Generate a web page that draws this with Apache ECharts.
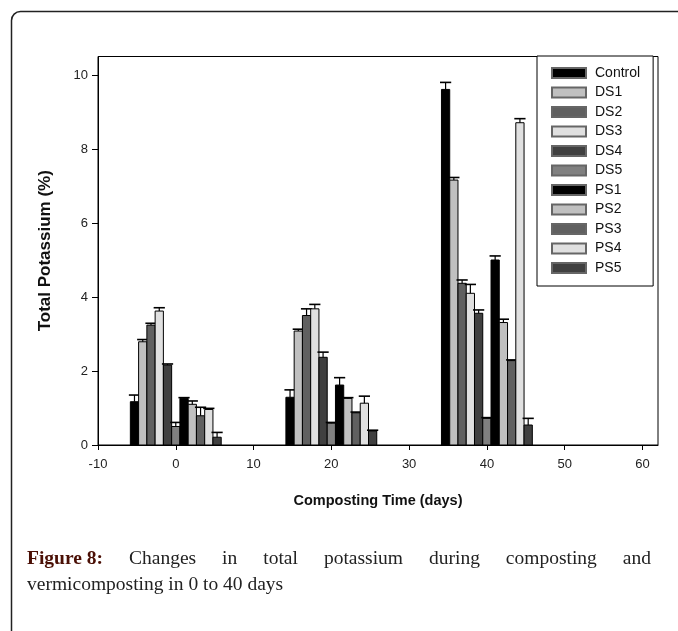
<!DOCTYPE html>
<html>
<head>
<meta charset="utf-8">
<script src="https://cdn.jsdelivr.net/npm/echarts@6/dist/echarts.min.js"></script>
<style>
html,body{margin:0;padding:0;background:#fff;}
#chart{width:678px;height:631px;}
</style>
</head>
<body>
<div id="chart"></div>
<script>
// ---- data ----
const days = [0, 20, 40];
const seriesNames = ['Control','DS1','DS2','DS3','DS4','DS5','PS1','PS2','PS3','PS4','PS5'];
const seriesColors = ['#000000','#c0c0c0','#606060','#e0e0e0','#404040','#808080','#000000','#c0c0c0','#606060','#e0e0e0','#404040'];

const controlVals = [1.17, 1.29, 9.61];  const controlErr = [0.18, 0.20, 0.19];
const ds1Vals = [2.79, 3.08, 7.16];      const ds1Err = [0.06, 0.05, 0.07];
const ds2Vals = [3.24, 3.50, 4.37];      const ds2Err = [0.05, 0.18, 0.09];
const ds3Vals = [3.62, 3.68, 4.10];      const ds3Err = [0.09, 0.12, 0.24];
const ds4Vals = [2.16, 2.37, 3.56];      const ds4Err = [0.03, 0.14, 0.09];
const ds5Vals = [0.50, 0.59, 0.72];      const ds5Err = [0.11, 0.02, 0.02];
const ps1Vals = [1.26, 1.62, 5.00];      const ps1Err = [0.02, 0.20, 0.11];
const ps2Vals = [1.10, 1.26, 3.31];      const ps2Err = [0.09, 0.02, 0.09];
const ps3Vals = [0.79, 0.87, 2.28];      const ps3Err = [0.23, 0.02, 0.02];
const ps4Vals = [0.96, 1.13, 8.71];      const ps4Err = [0.03, 0.19, 0.11];
const ps5Vals = [0.21, 0.38, 0.54];      const ps5Err = [0.13, 0.02, 0.18];

const xTicks = [-10, 0, 10, 20, 30, 40, 50, 60];
const yTicks = [0, 2, 4, 6, 8, 10];

const allVals = [controlVals, ds1Vals, ds2Vals, ds3Vals, ds4Vals, ds5Vals, ps1Vals, ps2Vals, ps3Vals, ps4Vals, ps5Vals];
const allErr  = [controlErr, ds1Err, ds2Err, ds3Err, ds4Err, ds5Err, ps1Err, ps2Err, ps3Err, ps4Err, ps5Err];

const captionBold = 'Figure 8:';
const captionLine1 = 'Changes in total potassium during composting and';
const captionLine2 = 'vermicomposting in 0 to 40 days';

// ---- chart ----
const BAR_W = 1.062; // bar width in days
const nSeries = seriesNames.length;

function renderBar(params, api) {
  const idx = params.seriesIndex;
  const day = api.value(0), val = api.value(1), err = api.value(2);
  const unit = api.size([1, 0])[0];
  const w = unit * BAR_W;
  const top = api.coord([day, val]);
  const base = api.coord([day, 0]);
  const errTop = api.coord([day, val + err]);
  const x = top[0] + (idx - nSeries / 2) * w;
  const cx = x + w / 2;
  const capHalf = w * 0.68;
  return {
    type: 'group',
    children: [
      { type: 'rect', shape: { x: x, y: top[1], width: w, height: base[1] - top[1] },
        style: { fill: seriesColors[idx], stroke: '#000', lineWidth: 1 } },
      { type: 'line', shape: { x1: cx, y1: top[1], x2: cx, y2: errTop[1] },
        style: { stroke: '#000', lineWidth: 1.2 } },
      { type: 'line', shape: { x1: cx - capHalf, y1: errTop[1], x2: cx + capHalf, y2: errTop[1] },
        style: { stroke: '#000', lineWidth: 1.6 } }
    ]
  };
}

const series = seriesNames.map((name, i) => ({
  name: name,
  type: 'custom',
  renderItem: renderBar,
  itemStyle: { color: seriesColors[i], borderColor: '#666', borderWidth: 1 },
  encode: { x: 0, y: 1 },
  data: days.map((d, k) => [d, allVals[i][k], allErr[i][k]]),
  silent: true,
  animation: false
}));

// caption justification
const SERIF = '"Liberation Serif", "DejaVu Serif", serif';
const CAP_SIZE = 19.5;
const mctx = document.createElement('canvas').getContext('2d');
function measure(text, bold) {
  mctx.font = (bold ? 'bold ' : '') + CAP_SIZE + 'px ' + SERIF;
  return mctx.measureText(text).width;
}
const capLeft = 27, capRight = 651, capY1 = 559, capY2 = 585;
const words = [{ t: captionBold, b: true }]
  .concat(captionLine1.split(' ').map(w => ({ t: w, b: false })));
const totalW = words.reduce((s, w) => s + measure(w.t, w.b), 0);
const gap = (capRight - capLeft - totalW) / (words.length - 1);
const captionEls = [];
let cx = capLeft;
words.forEach(w => {
  captionEls.push({
    type: 'text', x: cx, y: capY1,
    style: { text: w.t, font: (w.b ? 'bold ' : '') + CAP_SIZE + 'px ' + SERIF,
      fill: w.b ? '#4a0f05' : '#222', textVerticalAlign: 'middle' }
  });
  cx += measure(w.t, w.b) + gap;
});
captionEls.push({
  type: 'text', x: capLeft, y: capY2,
  style: { text: captionLine2, font: CAP_SIZE + 'px ' + SERIF, fill: '#222', textVerticalAlign: 'middle' }
});

const SANS = '"Liberation Sans", Arial, sans-serif';
const chart = echarts.init(document.getElementById('chart'), null, { renderer: 'canvas' });
chart.setOption({
  animation: false,
  backgroundColor: '#fff',
  grid: { left: 98, top: 56.5, width: 560, height: 388.5, show: true, borderColor: '#000', borderWidth: 1, containLabel: false },
  xAxis: {
    type: 'value', min: -10, max: 62,
    name: 'Composting Time (days)', nameLocation: 'middle', nameGap: 48,
    nameTextStyle: { fontFamily: SANS, fontWeight: 'bold', fontSize: 14.5, color: '#111' },
    axisLine: { show: true, onZero: false, lineStyle: { color: '#000', width: 1 } },
    axisTick: { show: true, length: 5, lineStyle: { color: '#000' }, customValues: xTicks },
    axisLabel: { fontFamily: SANS, fontSize: 13, color: '#222', margin: 13, customValues: xTicks },
    splitLine: { show: false }
  },
  yAxis: {
    type: 'value', min: 0, max: 10.5,
    name: 'Total Potassium (%)', nameLocation: 'middle', nameGap: 44, nameRotate: 90,
    nameTextStyle: { fontFamily: SANS, fontWeight: 'bold', fontSize: 17, color: '#111' },
    axisLine: { show: true, onZero: false, lineStyle: { color: '#000', width: 1 } },
    axisTick: { show: true, length: 6, lineStyle: { color: '#000' }, customValues: yTicks },
    axisLabel: { fontFamily: SANS, fontSize: 13, color: '#222', margin: 10, customValues: yTicks },
    splitLine: { show: false }
  },
  legend: {
    data: seriesNames,
    orient: 'vertical',
    left: 537, top: 56,
    icon: 'rect',
    itemWidth: 34, itemHeight: 10, itemGap: 5.5,
    padding: [10, 13, 11, 14],
    borderColor: '#000', borderWidth: 1,
    backgroundColor: '#fff',
    selectedMode: false,
    textStyle: { fontFamily: SANS, fontSize: 14, color: '#111', padding: [0, 0, 0, 4] }
  },
  graphic: [
    { type: 'rect', shape: { x: 11.5, y: 11.5, width: 800, height: 800, r: 9 },
      style: { fill: 'none', stroke: '#222', lineWidth: 1.5 }, silent: true }
  ].concat(captionEls),
  series: series
});
</script>
</body>
</html>
